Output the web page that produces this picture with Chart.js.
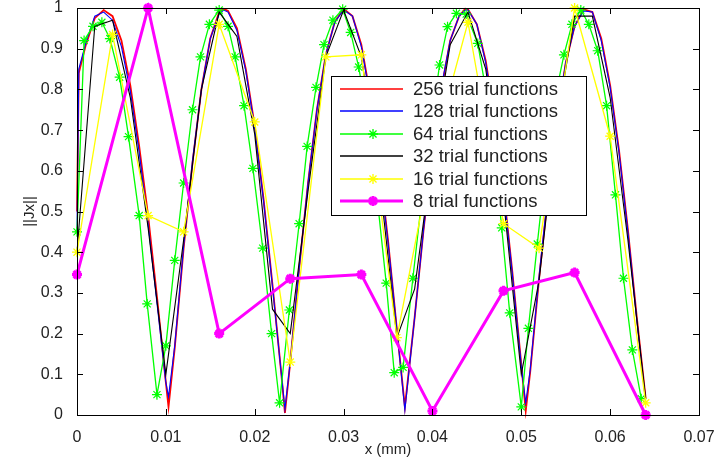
<!DOCTYPE html>
<html>
<head>
<meta charset="utf-8">
<script src="https://cdn.jsdelivr.net/npm/chart.js@4.4.1/dist/chart.umd.min.js"></script>
<style>
html, body { margin: 0; padding: 0; background: #fff; }
#chart-j { display: block; }
</style>
</head>
<body>
<canvas id="chart-j" width="717" height="465"></canvas>
<script>
// x positions shared by the 256 and 128 curves
const x_fine = [
	0, 0.0002, 0.001, 0.002, 0.003, 0.004, 0.005, 0.006, 0.007, 0.008, 0.009, 0.010, 0.0103,
	0.011, 0.012, 0.013, 0.014, 0.015, 0.016, 0.0165, 0.017, 0.018, 0.019, 0.020, 0.021, 0.022, 0.023, 0.0234,
	0.024, 0.025, 0.026, 0.027, 0.028, 0.029, 0.030, 0.031, 0.032, 0.033, 0.034, 0.035, 0.036, 0.0369,
	0.038, 0.039, 0.040, 0.041, 0.042, 0.043, 0.0437, 0.044, 0.045, 0.046, 0.047, 0.048, 0.049, 0.050, 0.0505,
	0.051, 0.052, 0.053, 0.054, 0.055, 0.056, 0.057, 0.058, 0.059, 0.060, 0.061, 0.062, 0.063, 0.064
];
const y_256 = [
	0.50, 0.84, 0.91, 0.975, 0.995, 0.98, 0.92, 0.81, 0.66, 0.49, 0.29, 0.08, 0.02,
	0.165, 0.41, 0.62, 0.80, 0.925, 0.99, 0.998, 0.993, 0.95, 0.85, 0.71, 0.53, 0.32, 0.10, 0.005,
	0.13, 0.36, 0.57, 0.75, 0.885, 0.965, 0.998, 0.98, 0.91, 0.785, 0.62, 0.43, 0.21, 0.02,
	0.24, 0.455, 0.645, 0.80, 0.92, 0.98, 0.998, 0.997, 0.96, 0.87, 0.73, 0.555, 0.35, 0.125, 0.01,
	0.105, 0.335, 0.54, 0.72, 0.865, 0.955, 0.997, 0.99, 0.925, 0.81, 0.65, 0.455, 0.24, 0.04
];
const y_128 = [
	0.45, 0.85, 0.915, 0.98, 0.99, 0.97, 0.905, 0.795, 0.645, 0.47, 0.275, 0.08, 0.045,
	0.17, 0.415, 0.625, 0.80, 0.925, 0.985, 0.995, 0.99, 0.945, 0.845, 0.705, 0.525, 0.315, 0.10, 0.015,
	0.13, 0.36, 0.57, 0.75, 0.885, 0.965, 0.995, 0.98, 0.905, 0.78, 0.615, 0.425, 0.21, 0.012,
	0.24, 0.455, 0.65, 0.805, 0.92, 0.98, 0.995, 0.995, 0.96, 0.865, 0.725, 0.55, 0.345, 0.12, 0.03,
	0.11, 0.34, 0.545, 0.725, 0.865, 0.955, 0.993, 0.99, 0.92, 0.805, 0.645, 0.45, 0.235, 0.03
];
const x_64 = [
	0.0000, 0.0008, 0.0018, 0.0028, 0.0037, 0.0048, 0.0058, 0.0070, 0.0079, 0.0090,
	0.0100, 0.0110, 0.0120, 0.0130, 0.0139, 0.0149, 0.0160, 0.0170, 0.0178, 0.0188,
	0.0198, 0.0209, 0.0219, 0.0228, 0.0239, 0.0250, 0.0259, 0.0269, 0.0278, 0.0288,
	0.0299, 0.0308, 0.0317, 0.0327, 0.0337, 0.0348, 0.0357, 0.0367, 0.0378, 0.0388,
	0.0398, 0.0408, 0.0417, 0.0427, 0.0438, 0.0451, 0.0460, 0.0469, 0.0478, 0.0487,
	0.0500, 0.0508, 0.0518, 0.0528, 0.0538, 0.0548, 0.0557, 0.0567, 0.0576, 0.0586,
	0.0596, 0.0606, 0.0615, 0.0625, 0.0635
];
const y_64 = [
	0.45, 0.92, 0.955, 0.965, 0.925, 0.83, 0.684, 0.49, 0.273, 0.05,
	0.17, 0.38, 0.57, 0.75, 0.88, 0.96, 0.995, 0.955, 0.88, 0.76,
	0.606, 0.41, 0.20, 0.03, 0.258, 0.47, 0.66, 0.805, 0.91, 0.97,
	0.997, 0.94, 0.855, 0.73, 0.55, 0.324, 0.104, 0.117, 0.336, 0.53,
	0.70, 0.86, 0.954, 0.987, 0.985, 0.913, 0.80, 0.65, 0.46, 0.251,
	0.02, 0.213, 0.42, 0.62, 0.78, 0.885, 0.96, 0.995, 0.96, 0.895,
	0.76, 0.541, 0.336, 0.16, 0.04
];
const x_32 = [
	0, 0.002, 0.004, 0.006, 0.008, 0.010, 0.012, 0.014, 0.016, 0.018, 0.020,
	0.022, 0.024, 0.026, 0.028, 0.030, 0.032, 0.034, 0.036, 0.038, 0.040,
	0.042, 0.044, 0.046, 0.048, 0.050, 0.052, 0.054, 0.056, 0.058, 0.060, 0.062, 0.064
];
const y_32 = [
	0.40, 0.955, 0.97, 0.78, 0.46, 0.10, 0.43, 0.80, 0.99, 0.93, 0.69,
	0.26, 0.20, 0.55, 0.88, 0.995, 0.88, 0.59, 0.19, 0.31, 0.64,
	0.91, 0.99, 0.85, 0.53, 0.10, 0.33, 0.72, 0.98, 0.98, 0.78, 0.43, 0.04
];
const x_16 = [
	0, 0.004, 0.008, 0.012, 0.016, 0.020, 0.024, 0.028, 0.032,
	0.036, 0.040, 0.044, 0.048, 0.052, 0.056, 0.060, 0.064
];
const y_16 = [
	0.40, 0.935, 0.49, 0.45, 0.96, 0.72, 0.13, 0.88, 0.885,
	0.19, 0.64, 0.965, 0.47, 0.41, 1.0, 0.685, 0.03
];
const x_8 = [0, 0.008, 0.016, 0.024, 0.032, 0.040, 0.048, 0.056, 0.064];
const y_8 = [0.345, 1.0, 0.20, 0.335, 0.345, 0.01, 0.305, 0.35, 0.0];

const series_labels = [
	'256 trial functions', '128 trial functions', '64 trial functions',
	'32 trial functions', '16 trial functions', '8 trial functions'
];
const x_tick_labels = ['0', '0.01', '0.02', '0.03', '0.04', '0.05', '0.06', '0.07'];
const y_tick_labels = ['0', '0.1', '0.2', '0.3', '0.4', '0.5', '0.6', '0.7', '0.8', '0.9', '1'];

const pts = (xs, ys) => xs.map((x, i) => ({x: x, y: ys[i]}));

const FONT = "'Liberation Sans', Arial, sans-serif";
Chart.defaults.font.family = FONT;

const data = {
	datasets: [
		{
			label: series_labels[0],
			data: pts(x_fine, y_256),
			borderColor: '#ff0000',
			borderWidth: 1.8,
			pointRadius: 0,
			order: 6,
			marker: null
		},
		{
			label: series_labels[1],
			data: pts(x_fine, y_128),
			borderColor: '#0000ff',
			borderWidth: 1.1,
			pointRadius: 0,
			order: 5,
			marker: null
		},
		{
			label: series_labels[2],
			data: pts(x_64, y_64),
			borderColor: '#00ff00',
			backgroundColor: '#00ff00',
			borderWidth: 1.3,
			pointStyle: 'star',
			pointRadius: 5,
			pointBorderWidth: 1.2,
			order: 4,
			marker: {r: 5, lw: 1.3}
		},
		{
			label: series_labels[3],
			data: pts(x_32, y_32),
			borderColor: '#000000',
			borderWidth: 1.1,
			pointRadius: 0,
			order: 3,
			marker: null
		},
		{
			label: series_labels[4],
			data: pts(x_16, y_16),
			borderColor: '#ffff00',
			backgroundColor: '#ffff00',
			borderWidth: 1.3,
			pointStyle: 'star',
			pointRadius: 5,
			pointBorderWidth: 1.3,
			order: 2,
			marker: {r: 5, lw: 1.3}
		},
		{
			label: series_labels[5],
			data: pts(x_8, y_8),
			borderColor: '#ff00ff',
			backgroundColor: '#ff00ff',
			borderWidth: 3,
			pointStyle: 'star',
			pointRadius: 5,
			pointBorderWidth: 3,
			order: 1,
			marker: {r: 5, lw: 3}
		},
	]
};

// draws one asterisk marker like matlab's '*'
function draw_star(ctx, x, y, r, lw, color) {
	ctx.save();
	ctx.strokeStyle = color;
	ctx.lineWidth = lw;
	ctx.beginPath();
	ctx.moveTo(x - r, y); ctx.lineTo(x + r, y);
	ctx.moveTo(x, y - r); ctx.lineTo(x, y + r);
	const d = r * 0.7071;
	ctx.moveTo(x - d, y - d); ctx.lineTo(x + d, y + d);
	ctx.moveTo(x - d, y + d); ctx.lineTo(x + d, y - d);
	ctx.stroke();
	ctx.restore();
}

const frame_plugin = {
	id: 'frame',
	afterDatasetsDraw(chart) {
		const {ctx, chartArea: a, scales} = chart;
		ctx.save();
		ctx.strokeStyle = '#000';
		ctx.lineWidth = 1;
		ctx.strokeRect(a.left + 0.5, a.top + 0.5, a.right - a.left, a.bottom - a.top);
		const len = 6;
		ctx.beginPath();
		scales.x.ticks.forEach(t => {
			const px = Math.round(scales.x.getPixelForValue(t.value)) + 0.5;
			ctx.moveTo(px, a.bottom); ctx.lineTo(px, a.bottom - len);
			ctx.moveTo(px, a.top); ctx.lineTo(px, a.top + len);
		});
		scales.y.ticks.forEach(t => {
			const py = Math.round(scales.y.getPixelForValue(t.value)) + 0.5;
			ctx.moveTo(a.left, py); ctx.lineTo(a.left + len, py);
			ctx.moveTo(a.right, py); ctx.lineTo(a.right - len, py);
		});
		ctx.stroke();
		ctx.restore();
	},
	afterDraw(chart) {
		// legend box inside the plot, matlab style
		const ctx = chart.ctx;
		const bx = 331, by = 76, bw = 255, bh = 139;
		ctx.save();
		ctx.fillStyle = '#fff';
		ctx.fillRect(bx, by, bw, bh);
		ctx.strokeStyle = '#000';
		ctx.lineWidth = 1;
		ctx.strokeRect(bx + 0.5, by + 0.5, bw, bh);
		ctx.font = '18.5px ' + FONT;
		ctx.textBaseline = 'middle';
		chart.data.datasets.forEach((ds, i) => {
			const ry = Math.round(by + 13 + i * 22.4);
			ctx.strokeStyle = ds.borderColor;
			ctx.lineWidth = ds.borderWidth < 2 ? 1.6 : ds.borderWidth;
			ctx.beginPath();
			ctx.moveTo(bx + 9, ry);
			ctx.lineTo(bx + 72, ry);
			ctx.stroke();
			if (ds.marker) draw_star(ctx, bx + 42, ry, ds.marker.r, ds.marker.lw, ds.borderColor);
			ctx.fillStyle = '#222';
			ctx.fillText(ds.label, bx + 82, ry + 1);
		});
		ctx.restore();
	}
};

const config = {
	type: 'line',
	data: data,
	options: {
		responsive: false,
		animation: false,
		layout: {
			padding: {top: 0, right: 18, left: 0, bottom: 0}
		},
		datasets: {
			line: {
				tension: 0,
				fill: false,
				clip: false
			}
		},
		plugins: {
			legend: {display: false},
			tooltip: {enabled: false}
		},
		scales: {
			x: {
				type: 'linear',
				min: 0,
				max: 0.07,
				grid: {display: false},
				border: {display: false},
				afterFit: s => { s.height = 50; s.paddingLeft = 0; s.paddingRight = 0; },
				ticks: {
					stepSize: 0.01,
					autoSkip: false,
					maxRotation: 0,
					padding: 5,
					color: '#222',
					font: {size: 16},
					callback: (v, i) => x_tick_labels[i]
				},
				title: {
					display: true,
					text: 'x (mm)',
					color: '#222',
					font: {size: 15},
					padding: {top: 0, bottom: 6}
				}
			},
			y: {
				type: 'linear',
				min: 0,
				max: 1,
				grid: {display: false},
				border: {display: false},
				afterFit: s => { s.width = 77; s.paddingTop = 8; s.paddingBottom = 0; },
				ticks: {
					stepSize: 0.1,
					autoSkip: false,
					padding: 6,
					color: '#222',
					font: {size: 16},
					callback: (v, i) => y_tick_labels[i]
				},
				title: {
					display: true,
					text: '||Jx||',
					color: '#222',
					font: {size: 15},
					padding: {top: 21, bottom: 0}
				}
			}
		}
	},
	plugins: [frame_plugin]
};

document.addEventListener('DOMContentLoaded', () => {
	const ctx = document.getElementById('chart-j');
	const chartJ = new Chart(ctx, config);
});
</script>
</body>
</html>
